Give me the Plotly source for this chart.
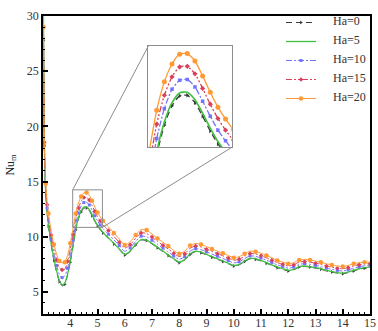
import plotly.graph_objects as go

# ---- data ----
t = [3.0, 3.02, 3.05, 3.1, 3.15, 3.2, 3.3, 3.4, 3.5, 3.6, 3.7, 3.8, 3.9, 4.0, 4.1, 4.2, 4.3, 4.4, 4.5, 4.6,
     4.7, 4.8, 4.9, 5.0, 5.1, 5.2, 5.4, 5.6, 5.8, 6.0, 6.2, 6.4, 6.6, 6.8, 7.0, 7.2, 7.4, 7.6, 7.8, 8.0,
     8.2, 8.4, 8.6, 8.8, 9.0, 9.2, 9.4, 9.6, 9.8, 10.0, 10.2, 10.4, 10.6, 10.8, 11.0, 11.2, 11.4, 11.6, 11.8, 12.0,
     12.2, 12.4, 12.6, 12.8, 13.0, 13.2, 13.4, 13.6, 13.8, 14.0, 14.2, 14.4, 14.6, 14.8, 15.0]

ha0 = [40, 27.8, 17.8, 13.85, 12.15, 10.95, 9.25, 7.85, 6.78, 5.93, 5.55, 5.7, 6.5, 7.7, 9.1, 10.6, 11.6, 12.25, 12.58, 12.6,
       12.35, 11.9, 11.4, 10.97, 10.63, 10.33, 9.84, 9.35, 8.85, 8.35, 8.65, 9.25, 9.7, 9.65, 9.35, 9.0, 8.65, 8.3, 7.95, 7.65,
       7.9, 8.4, 8.65, 8.55, 8.35, 8.15, 7.95, 7.75, 7.55, 7.35, 7.45, 7.75, 8.0, 7.95, 7.8, 7.6, 7.4, 7.2, 7.05, 6.9,
       7.0, 7.25, 7.3, 7.25, 7.15, 7.05, 6.9, 6.8, 6.7, 6.65, 6.75, 6.9, 7.05, 7.15, 7.2]

ha5 = [40, 28, 18, 14, 12.3, 11.1, 9.4, 8.0, 6.9, 6.05, 5.65, 5.8, 6.6, 7.8, 9.2, 10.7, 11.7, 12.35, 12.68, 12.7,
       12.45, 12.0, 11.5, 11.05, 10.7, 10.4, 9.9, 9.4, 8.9, 8.4, 8.7, 9.3, 9.75, 9.7, 9.4, 9.05, 8.7, 8.35, 8.0, 7.7,
       7.95, 8.45, 8.7, 8.6, 8.4, 8.2, 8.0, 7.8, 7.6, 7.4, 7.5, 7.8, 8.05, 8.0, 7.85, 7.65, 7.45, 7.25, 7.1, 6.95,
       7.05, 7.3, 7.35, 7.3, 7.2, 7.1, 6.95, 6.85, 6.75, 6.7, 6.8, 6.95, 7.1, 7.2, 7.25]

ha10 = [40, 28.3, 18.25, 14.25, 12.6, 11.45, 9.75, 8.45, 7.4, 6.6, 6.3, 6.45, 7.15, 8.35, 9.7, 11.15, 12.15, 12.8, 13.1, 13.13,
        12.88, 12.4, 11.9, 11.43, 11.07, 10.75, 10.23, 9.72, 9.2, 8.68, 8.98, 9.58, 10.05, 10.0, 9.68, 9.32, 8.97, 8.62, 8.25, 7.95,
        8.2, 8.7, 8.93, 8.83, 8.63, 8.43, 8.23, 8.03, 7.83, 7.63, 7.73, 8.02, 8.27, 8.22, 8.07, 7.87, 7.67, 7.45, 7.3, 7.15,
        7.25, 7.5, 7.55, 7.5, 7.4, 7.3, 7.15, 7.05, 6.95, 6.9, 7.0, 7.15, 7.28, 7.37, 7.4]

ha15 = [40, 28.65, 18.55, 14.55, 12.9, 11.75, 10.15, 8.85, 7.9, 7.2, 7.0, 7.05, 7.75, 8.85, 10.2, 11.63, 12.6, 13.22, 13.55, 13.57,
        13.32, 12.83, 12.3, 11.82, 11.43, 11.1, 10.57, 10.03, 9.5, 8.97, 9.27, 9.87, 10.35, 10.3, 9.97, 9.58, 9.23, 8.88, 8.5, 8.2,
        8.45, 8.95, 9.17, 9.07, 8.87, 8.67, 8.47, 8.27, 8.07, 7.87, 7.97, 8.23, 8.48, 8.43, 8.28, 8.08, 7.88, 7.65, 7.5, 7.35,
        7.45, 7.7, 7.75, 7.7, 7.6, 7.5, 7.35, 7.25, 7.15, 7.1, 7.2, 7.35, 7.47, 7.53, 7.55]

ha20 = [40, 29, 18.8, 14.8, 13.2, 12.1, 10.5, 9.3, 8.4, 7.8, 7.65, 7.7, 8.3, 9.4, 10.7, 12.1, 13.05, 13.65, 13.98, 14.0,
        13.75, 13.25, 12.7, 12.2, 11.8, 11.45, 10.9, 10.35, 9.8, 9.25, 9.55, 10.15, 10.65, 10.6, 10.25, 9.85, 9.5, 9.15, 8.75, 8.45,
        8.7, 9.2, 9.4, 9.3, 9.1, 8.9, 8.7, 8.5, 8.3, 8.1, 8.2, 8.45, 8.7, 8.65, 8.5, 8.3, 8.1, 7.85, 7.7, 7.55,
        7.65, 7.9, 7.95, 7.9, 7.8, 7.7, 7.55, 7.45, 7.35, 7.3, 7.4, 7.55, 7.65, 7.7, 7.7]

names = ["Ha=0", "Ha=5", "Ha=10", "Ha=15", "Ha=20"]
series = [ha0, ha5, ha10, ha15, ha20]

x_ticks = list(range(4, 16))
y_ticks = [5, 10, 15, 20, 25, 30]

# ---- styles ----
styles = [
    dict(color="#3a3a3a", dash="6px,4px", width=1, symbol="triangle-right", size=3.5, markers=True),
    dict(color="#3fbf3f", dash="solid", width=1.3, symbol="circle", size=0, markers=False),
    dict(color="#7373ff", dash="6px,2px,2px,2px", width=1, symbol="square", size=3, markers=True),
    dict(color="#d9405a", dash="6px,2px,2px,2px,2px,2px", width=1, symbol="diamond", size=3.5, markers=True),
    dict(color="#ff9933", dash="solid", width=1, symbol="circle", size=4.5, markers=True),
]

W, H = 378, 331
M = dict(l=43, r=8, t=16, b=17)
XR = [3, 15]
YR = [3, 30]
INSET_X = [4.09, 5.18]
INSET_Y = [10.85, 14.25]
INSET_DX = [0.322, 0.577]
INSET_DY = [0.559, 0.899]

# legend layout (pixels in the figure)
LEG_LEFT_PX = 281
LEG_TOP_PX = 8
LEG_FIRST_PX = 21
LEG_STEP_PX = 19
LEG_TEXT_PX = 331

fig = go.Figure()

for name, ys, st in zip(names, series, styles):
    mode = "lines+markers" if st["markers"] else "lines"
    fig.add_trace(go.Scatter(
        x=t, y=ys, name=" ", legendgroup=name, mode=mode, hovertext=name,
        line=dict(color=st["color"], dash=st["dash"], width=st["width"], shape="spline", smoothing=0.6),
        marker=dict(color=st["color"], symbol=st["symbol"], size=st["size"], maxdisplayed=40),
        xaxis="x", yaxis="y",
    ))

for name, ys, st in zip(names, series, styles):
    mode = "lines+markers" if st["markers"] else "lines"
    fig.add_trace(go.Scatter(
        x=t, y=ys, name=name, legendgroup=name, mode=mode, showlegend=False,
        line=dict(color=st["color"], dash=st["dash"], width=st["width"] + 0.3, shape="spline", smoothing=0.6),
        marker=dict(color=st["color"], symbol=st["symbol"], size=st["size"] + 0.5),
        xaxis="x2", yaxis="y2",
    ))

font_family = "Liberation Serif, Times New Roman, serif"

pw = W - M["l"] - M["r"]
ph = H - M["t"] - M["b"]

# legend labels as text next to the legend line samples
annotations = []
for i, name in enumerate(names):
    py = LEG_FIRST_PX + i * LEG_STEP_PX
    annotations.append(dict(
        text=name, xref="paper", yref="paper",
        x=(LEG_TEXT_PX - M["l"]) / pw, y=(H - M["b"] - py) / ph,
        xanchor="left", yanchor="middle", showarrow=False,
        font=dict(family=font_family, size=12, color="#333333"),
    ))

# zoom rectangle in main axes and connector lines to inset corners
inset_left = XR[0] + INSET_DX[0] * (XR[1] - XR[0])
inset_right = XR[0] + INSET_DX[1] * (XR[1] - XR[0])
inset_top = YR[0] + INSET_DY[1] * (YR[1] - YR[0])
inset_bottom = YR[0] + INSET_DY[0] * (YR[1] - YR[0])

shapes = [
    dict(type="rect", xref="x", yref="y", x0=INSET_X[0], x1=INSET_X[1], y0=INSET_Y[0], y1=INSET_Y[1],
         line=dict(color="#8c8c8c", width=1)),
    dict(type="line", xref="x", yref="y", x0=INSET_X[0], y0=INSET_Y[1], x1=inset_left, y1=inset_top,
         line=dict(color="#8c8c8c", width=1)),
    dict(type="line", xref="x", yref="y", x0=INSET_X[1], y0=INSET_Y[0], x1=inset_right, y1=inset_bottom,
         line=dict(color="#8c8c8c", width=1)),
]

fig.update_layout(
    width=W, height=H,
    margin=dict(**M, autoexpand=False),
    paper_bgcolor="white", plot_bgcolor="white",
    font=dict(family=font_family, size=12, color="#333333"),
    showlegend=True,
    legend=dict(x=(LEG_LEFT_PX - M["l"]) / pw, y=(H - M["b"] - LEG_TOP_PX) / ph,
                xanchor="left", yanchor="top", bgcolor="rgba(0,0,0,0)",
                font=dict(family=font_family, size=12, color="#333333"), itemwidth=30,
                tracegroupgap=0),
    shapes=shapes,
    annotations=annotations,
    xaxis=dict(range=XR, tickvals=x_ticks, ticks="inside", ticklen=5, tickwidth=1.5, tickcolor="black",
               showline=True, linecolor="black", linewidth=1.8, mirror=True, showgrid=False, zeroline=False,
               automargin=False, ticklabelstandoff=-3,
               minor=dict(ticks="inside", dtick=0.2, tick0=3, ticklen=2.5, tickcolor="black", tickwidth=1),
               tickfont=dict(family=font_family, size=12, color="#333333")),
    yaxis=dict(range=YR, tickvals=y_ticks, ticks="inside", ticklen=5, tickwidth=1.5, tickcolor="black",
               showline=True, linecolor="black", linewidth=1.8, mirror=True, showgrid=False, zeroline=False,
               automargin=False,
               minor=dict(ticks="inside", dtick=1, tick0=0, ticklen=2.5, tickcolor="black", tickwidth=1),
               tickfont=dict(family=font_family, size=12, color="#333333"),
               title=dict(text="Nu<sub>m</sub>", standoff=10, font=dict(family=font_family, size=12, color="#222222"))),
    xaxis2=dict(domain=INSET_DX, anchor="y2", range=INSET_X, showticklabels=False, ticks="",
                showline=True, linecolor="#8c8c8c", linewidth=1, mirror=True, showgrid=False, zeroline=False),
    yaxis2=dict(domain=INSET_DY, anchor="x2", range=INSET_Y, showticklabels=False, ticks="",
                showline=True, linecolor="#8c8c8c", linewidth=1, mirror=True, showgrid=False, zeroline=False),
)

fig.write_html("out.html", config={"displayModeBar": False},
               post_script="document.body.style.margin='0';")
